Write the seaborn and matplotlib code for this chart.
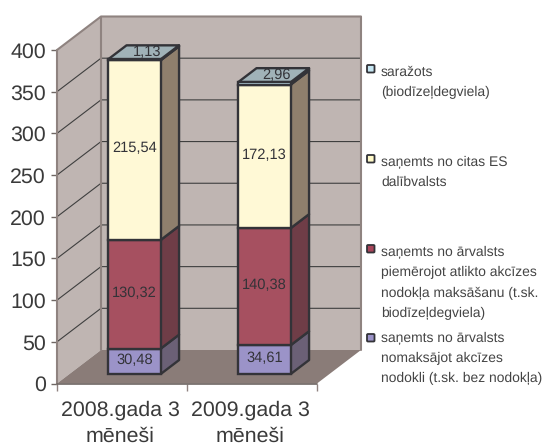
import matplotlib
matplotlib.use("Agg")
import matplotlib.pyplot as plt
import matplotlib.transforms as mtrans
from matplotlib.patches import Polygon, FancyBboxPatch
import numpy as np
import seaborn as sns

sns.set_style("white")
plt.rcParams['font.family'] = ['Liberation Sans', 'DejaVu Sans']
plt.rcParams['text.hinting'] = 'none'

categories = ["2008.gada 3\nmēneši", "2009.gada 3\nmēneši"]
series_names = ["saņemts no ārvalsts\nnomaksājot akcīzes\nnodokli (t.sk. bez nodokļa)",
                "saņemts no ārvalsts\npiemērojot atlikto akcīzes\nnodokļa maksāšanu (t.sk.\nbiodīzeļdegviela)",
                "saņemts no citas ES\ndalībvalsts",
                "saražots\n(biodīzeļdegviela)"]
v_nomaksajot = [30.48, 34.61]
v_atlikto = [130.32, 140.38]
v_es = [215.54, 172.13]
v_sarazots = [1.13, 2.96]
series = [v_nomaksajot, v_atlikto, v_es, v_sarazots]
labels = [["30,48", "34,61"], ["130,32", "140,38"], ["215,54", "172,13"], ["1,13", "2,96"]]
front_colors = ["#9B93C8", "#A65060", "#FFF9D6", "#C6E6F2"]
side_colors = ["#6B6076", "#6F3D47", "#8F7F6D", "#8F7F6D"]
top_color = "#A0B2B8"
swatch_colors = ["#9B93C8", "#A8455A", "#FFF9C8", "#C6E6F2"]
swatch_y_px = [333.5, 244.5, 154.5, 64.5]
legend_y_px = [331.5, 246, 155.5, 66]

W, H = 547, 446
fig = plt.figure(figsize=(W / 100, H / 100), dpi=100, facecolor="white")
L, R, B, T = 57, 317, 383.5, 50
ax = fig.add_axes([L / W, (H - B) / H, (R - L) / W, (B - T) / H])

# oblique projection: one unit of depth, in data units
X_D = 44 / 130
Y_D = 33.5 / ((B - T) / 400)

def proj(x, y, d):
    return (x + d * X_D, y + d * Y_D)

def poly(pts, **kw):
    kw.setdefault("clip_on", False)
    p = Polygon([proj(*q) for q in pts], closed=True, **kw)
    ax.add_patch(p)
    return p

WALL, FLOOR, WALL_EDGE, GRID, BAR_EDGE = "#BFB5B2", "#8A7C78", "#8F8380", "#3F3F3F", "#333338"
XL, XR, YTOP = -0.5, 1.5, 400

poly([(XL, 0, 1), (XR, 0, 1), (XR, YTOP, 1), (XL, YTOP, 1)], fc=WALL, ec="none", zorder=1)
poly([(XL, 0, 0), (XL, 0, 1), (XL, YTOP, 1), (XL, YTOP, 0)], fc=WALL, ec="none", zorder=1)
poly([(XL, 0, 0), (XR, 0, 0), (XR, 0, 1), (XL, 0, 1)], fc=FLOOR, ec="none", zorder=1.5)

ticks = np.arange(0, 401, 50)
for t in ticks[1:-1]:
    ax.plot(*zip(proj(XL, t, 0), proj(XL, t, 1), proj(XR, t, 1)), color=GRID, lw=0.8, zorder=2, clip_on=False)
ax.plot(*zip(proj(XL, YTOP, 0), proj(XL, YTOP, 1), proj(XR, YTOP, 1)), color=WALL_EDGE, lw=1.5, zorder=2.2, clip_on=False)
ax.plot(*zip(proj(XL, 0, 0), proj(XL, YTOP, 0)), color=WALL_EDGE, lw=1.5, zorder=2.2, clip_on=False)
ax.plot(*zip(proj(XL, 0, 1), proj(XL, YTOP, 1)), color=WALL_EDGE, lw=1.5, zorder=2.2, clip_on=False)
ax.plot(*zip(proj(XR, 0, 1), proj(XR, YTOP, 1)), color=WALL_EDGE, lw=1.5, zorder=2.2, clip_on=False)
ax.plot(*zip(proj(XL, 0, 0), proj(XR, 0, 0)), color="#6E6663", lw=1.2, zorder=2.4, clip_on=False)

BAR_W = 0.404
D0, D1 = 0.285, 0.70
bottom = np.zeros(2)
shift = mtrans.Affine2D().translate(D0 * X_D, D0 * Y_D) + ax.transData
for i, vals in enumerate(series):
    n0 = len(ax.patches)
    sns.barplot(x=categories, y=vals, bottom=bottom, color=front_colors[i], saturation=1,
                width=BAR_W, edgecolor=BAR_EDGE, linewidth=1.7, ax=ax, zorder=4)
    for p in ax.patches[n0:]:
        p.set_transform(shift)
        p.set_clip_on(False)
    for j in range(2):
        xr = j + BAR_W / 2
        xl = j - BAR_W / 2
        y0, y1 = bottom[j], bottom[j] + vals[j]
        poly([(xr, y0, D0), (xr, y0, D1), (xr, y1, D1), (xr, y1, D0)], fc=side_colors[i],
             ec=BAR_EDGE, lw=1.7, joinstyle="round", zorder=3.5)
        if i == len(series) - 1:
            poly([(xl, y1, D0), (xr, y1, D0), (xr, y1, D1), (xl, y1, D1)], fc=top_color,
                 ec=BAR_EDGE, lw=1.7, joinstyle="round", zorder=3.5)
            tx, ty = proj(j, y1, (D0 + D1) / 2)
            ax.annotate(labels[i][j], (tx, ty), xytext=(3, 0), textcoords="offset pixels",
                        ha="center", va="center", fontsize=10.5, color="#333338", zorder=6,
                        annotation_clip=False)
        else:
            tx, ty = proj(j, (y0 + y1) / 2, D0)
            ax.annotate(labels[i][j], (tx, ty), xytext=(0, 1.5), textcoords="offset pixels",
                        ha="center", va="center", fontsize=10.5, color="#333338", zorder=6,
                        annotation_clip=False)
    bottom = bottom + np.array(vals)

ax.set_xlim(XL, XR)
ax.set_ylim(0, YTOP)
ax.patch.set_visible(False)
sns.despine(ax=ax, left=True, bottom=True, top=True, right=True)
ax.set_yticks(ticks)
ax.set_xticks([0, 1])
ax.set_xticklabels(categories, linespacing=1.42)
ax.set_xticks([XL, 0.5, XR], minor=True)
ax.tick_params(axis="x", which="major", length=0, pad=12, labelsize=15.4, labelcolor="#3A3A3A")
ax.tick_params(axis="x", which="minor", length=5, width=1, color="#8F8380", bottom=True)
ax.tick_params(axis="y", length=4, width=1, color="#6E6663", pad=4, labelsize=15.4, labelcolor="#3A3A3A", left=True)
label_shift = mtrans.ScaledTranslation(-2 / 100, 0, fig.dpi_scale_trans)
for tl in ax.get_xticklabels():
    tl.set_transform(tl.get_transform() + label_shift)

for name, c, sy, y in zip(series_names, swatch_colors, swatch_y_px, legend_y_px):
    fig.patches.append(FancyBboxPatch((367 / W, 1 - (sy + 8) / H), 7.5 / W, 7.5 / H,
                                      boxstyle="round,pad=0,rounding_size=0.002",
                                      transform=fig.transFigure, fc=c, ec="#333338", lw=1.3))
    fig.text(381 / W, 1 - y / H, name, ha="left", va="top", fontsize=10, color="#444444", linespacing=1.7)

fig.savefig("out.png", dpi=100)
